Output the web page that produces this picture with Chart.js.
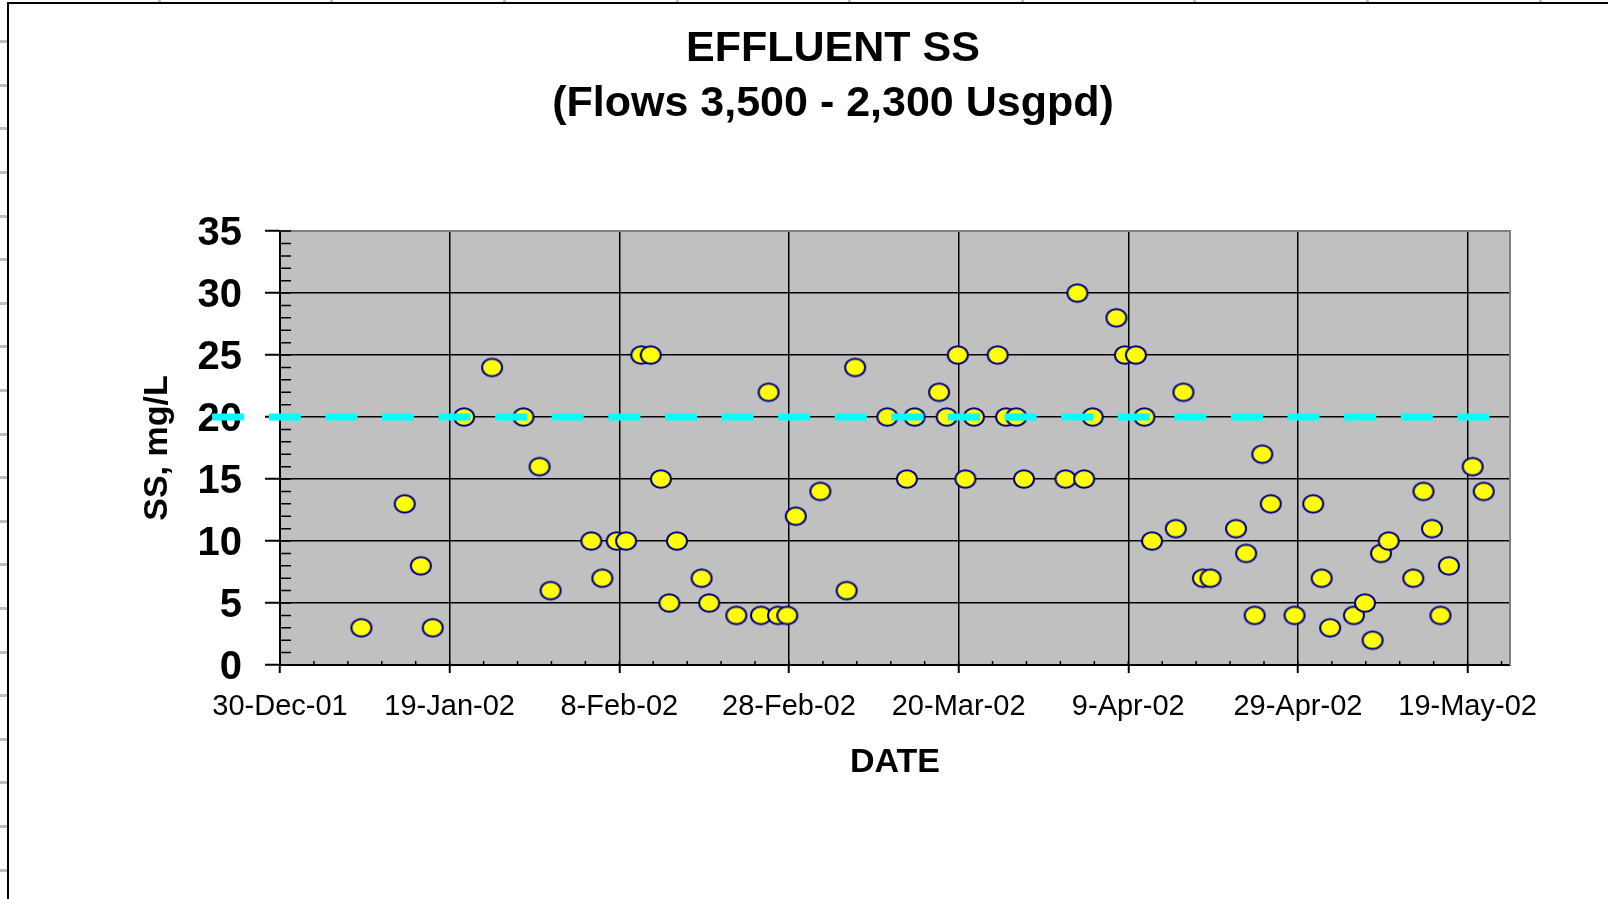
<!DOCTYPE html>
<html>
<head>
<meta charset="utf-8">
<script src="https://cdn.jsdelivr.net/npm/chart.js@4.4.1/dist/chart.umd.min.js"></script>
<style>
  html, body { margin: 0; padding: 0; background: #fff; }
  #wrap { position: relative; width: 1608px; height: 899px; overflow: hidden; }
  #c { position: absolute; left: 0; top: 0; }
  .leftTicks { position: absolute; left: 0; top: 0; width: 8px; height: 899px;
    background: repeating-linear-gradient(to bottom, transparent 0px, transparent 40.2px, #c0c0c0 40.2px, #c0c0c0 43.2px, transparent 43.2px, transparent 43.6px); }
  .topTicks { position: absolute; left: 8px; top: 0; width: 1600px; height: 4px;
    background: repeating-linear-gradient(to right, transparent 0px, transparent 149.8px, #c0c0c0 149.8px, #c0c0c0 152.8px, transparent 152.8px, transparent 172.6px); }
  .leftBorder { position: absolute; left: 7px; top: 2px; width: 2px; height: 897px; background: #000; }
  .topBorder { position: absolute; left: 7px; top: 2px; width: 1601px; height: 2px; background: #000; }
</style>
</head>
<body>
<div id="wrap">
  <div class="leftTicks"></div>
  <div class="topTicks"></div>
  <div class="leftBorder"></div>
  <div class="topBorder"></div>
  <canvas id="c" width="1608" height="899"></canvas>
</div>
<script>
// Days counted from 30-Dec-01
const ssDay = [9.6,14.7,16.6,18.0,21.7,25.0,28.7,30.6,31.9,36.7,38.0,39.7,40.8,42.6,43.7,44.9,45.9,46.8,49.7,50.6,53.8,56.7,57.6,58.7,59.8,60.8,63.7,66.8,67.8,71.6,73.9,74.8,77.7,78.6,79.9,80.8,81.8,84.6,85.6,86.8,87.7,92.6,94.0,94.8,95.8,98.6,99.6,100.9,101.9,102.8,105.6,106.5,108.8,109.7,112.7,113.9,114.9,115.8,116.8,119.6,121.8,122.8,123.8,126.6,127.9,128.8,129.8,130.7,133.6,134.8,135.8,136.8,137.8,140.6,141.9];
const ssValue = [3,13,8,3,20,24,20,16,6,10,7,10,10,25,25,15,5,10,7,5,4,4,22,4,4,12,14,6,24,20,15,20,22,20,25,15,20,25,20,20,15,15,30,15,20,28,25,25,20,10,11,22,7,7,11,9,4,17,13,4,13,7,3,4,5,2,9,10,7,14,11,4,8,16,14];

const limitDay = [-8, 142.6];
const limitValue = [20, 20];

const xTickDays = [0, 20, 40, 60, 80, 100, 120, 140];
const xTickLabels = ['30-Dec-01','19-Jan-02','8-Feb-02','28-Feb-02','20-Mar-02','9-Apr-02','29-Apr-02','19-May-02'];
const xMin = 0, xMax = 145, xMinorStep = 4;
const yMin = 0, yMax = 35, yStep = 5, yMinorStep = 1;

const titleLines = ['EFFLUENT SS', '(Flows 3,500 - 2,300 Usgpd)'];
const FONT = "'Liberation Sans', Arial, sans-serif";

// elliptical marker (yellow fill, navy outline)
const marker = document.createElement('canvas');
marker.width = 24; marker.height = 22;
(function () {
  const m = marker.getContext('2d');
  m.beginPath();
  m.ellipse(12, 11, 10, 8.7, 0, 0, Math.PI * 2);
  m.fillStyle = '#FFFF00';
  m.fill();
  m.lineWidth = 2;
  m.strokeStyle = '#000080';
  m.stroke();
})();

const decor = {
  id: 'decor',
  beforeDraw(chart) {
    const { ctx, chartArea: a } = chart;
    ctx.save();
    ctx.fillStyle = '#C0C0C0';
    ctx.fillRect(a.left, a.top, a.right - a.left, a.bottom - a.top);
    ctx.restore();
  },
  beforeDatasetsDraw(chart) {
    const { ctx, chartArea: a } = chart;
    const x = chart.scales.x, y = chart.scales.y;
    ctx.save();
    ctx.strokeStyle = '#808080';
    ctx.lineWidth = 2;
    ctx.beginPath();
    ctx.moveTo(a.left, a.top);
    ctx.lineTo(a.right, a.top);
    ctx.lineTo(a.right, a.bottom);
    ctx.stroke();
    ctx.strokeStyle = '#000';
    ctx.lineWidth = 1.5;
    ctx.beginPath();
    for (let v = yMin; v <= yMax; v += yMinorStep) {
      const py = y.getPixelForValue(v);
      ctx.moveTo(a.left, py); ctx.lineTo(a.left + 11, py);
    }
    for (let d = xMinorStep; d < xMax; d += xMinorStep) {
      const px = x.getPixelForValue(d);
      ctx.moveTo(px, a.bottom); ctx.lineTo(px, a.bottom - 4);
    }
    ctx.stroke();
    ctx.restore();
  }
};

new Chart(document.getElementById('c'), {
  type: 'scatter',
  data: {
    datasets: [
      {
        label: 'Limit',
        data: limitDay.map((d, i) => ({ x: d, y: limitValue[i] })),
        showLine: true,
        borderColor: '#00FFFF',
        borderWidth: 7,
        borderDash: [32, 24.6],
        borderCapStyle: 'butt',
        pointRadius: 0,
        clip: false,
        order: 0
      },
      {
        label: 'SS',
        data: ssDay.map((d, i) => ({ x: d, y: ssValue[i] })),
        pointStyle: marker,
        pointRadius: 10,
        order: 1
      }
    ]
  },
  options: {
    responsive: false,
    animation: false,
    devicePixelRatio: 1,
    layout: { padding: { left: 58, right: 0, top: 0, bottom: 0 } },
    plugins: {
      legend: { display: false },
      tooltip: { enabled: false },
      title: {
        display: true,
        text: titleLines,
        color: '#000',
        font: { family: FONT, size: 43, weight: 'bold', lineHeight: 1.28 },
        padding: { top: 22, bottom: 99 }
      }
    },
    scales: {
      x: {
        type: 'linear',
        min: xMin, max: xMax,
        afterBuildTicks(s) { s.ticks = xTickDays.map(v => ({ value: v })); },
        afterFit(s) { s.height = 234; },
        ticks: {
          autoSkip: false, maxRotation: 0,
          callback: (v) => xTickLabels[xTickDays.indexOf(v)],
          color: '#000',
          font: { family: FONT, size: 29 },
          padding: 16.5
        },
        grid: { color: '#000', lineWidth: 1.5, tickLength: 8, tickWidth: 2, tickColor: '#000' },
        border: { color: '#000', width: 2 },
        title: {
          display: true, text: 'DATE', color: '#000',
          font: { family: FONT, size: 34, weight: 'bold' },
          padding: { top: 0, bottom: 116 }
        }
      },
      y: {
        type: 'linear',
        min: yMin, max: yMax,
        afterFit(s) { s.width = 222; },
        ticks: {
          stepSize: yStep,
          autoSkip: false,
          // empty first line nudges the number ~3px below the tick, as in the original
          callback: (v) => ['', String(v)],
          color: '#000',
          font: { family: FONT, size: 40, weight: 'bold', lineHeight: 0.15 },
          padding: 23
        },
        grid: { color: '#000', lineWidth: 1.5, tickLength: 15, tickWidth: 2, tickColor: '#000' },
        border: { color: '#000', width: 2 },
        title: {
          display: true, text: 'SS, mg/L', color: '#000',
          font: { family: FONT, size: 34, weight: 'bold' },
          padding: { top: 79.5, bottom: 0 }
        }
      },
      yRight: {
        type: 'linear',
        position: 'right',
        display: true,
        afterFit(s) { s.width = 98; },
        ticks: { display: false },
        grid: { display: false, drawTicks: false },
        border: { display: false }
      }
    }
  },
  plugins: [decor]
});
</script>
</body>
</html>
